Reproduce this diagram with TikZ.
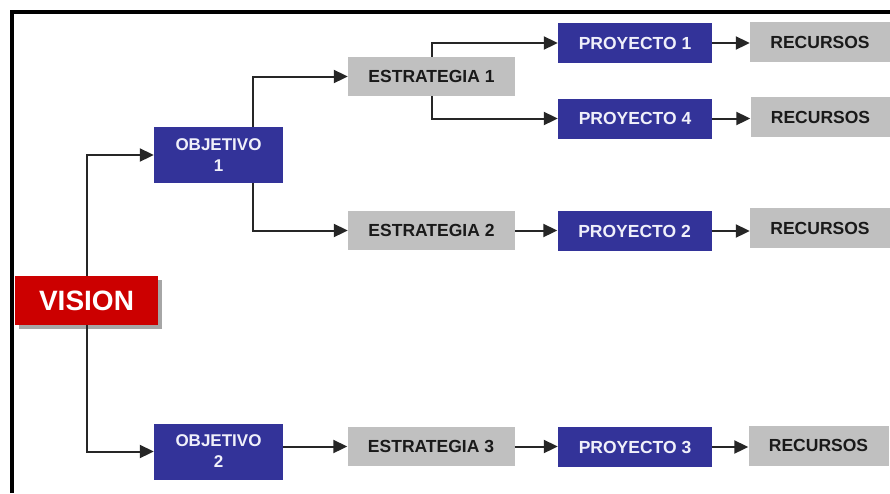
\documentclass[tikz,border=0pt]{standalone}
\usepackage{fontspec}
\setmainfont{Liberation Sans}
\usetikzlibrary{arrows.meta,shadows}
\definecolor{vred}{HTML}{CC0000}
\definecolor{pblue}{HTML}{333399}
\definecolor{bgray}{HTML}{C0C0C0}
\definecolor{dtext}{HTML}{1A1A1A}
\definecolor{ltext}{HTML}{F0F0FA}
\tikzset{
  box/.style={rectangle, inner sep=0pt, font=\bfseries\fontsize{17.5}{20}\selectfont},
  visbox/.style={box, fill=vred, text=white, minimum width=143pt, minimum height=49pt,
     font=\bfseries\fontsize{28}{32}\selectfont,
     drop shadow={shadow xshift=4pt, shadow yshift=-4pt, fill=black!35, opacity=1}},
  objbox/.style={box, fill=pblue, text=ltext, minimum width=129pt, minimum height=56pt,
     align=center, font=\bfseries\fontsize{17}{21}\selectfont},
  estbox/.style={box, fill=bgray, text=dtext, minimum width=167pt, minimum height=39pt},
  proybox/.style={box, fill=pblue, text=ltext, minimum width=154pt, minimum height=40pt},
  recbox/.style={box, fill=bgray, text=dtext, minimum width=140pt, minimum height=40pt},
  conn/.style={draw=black!85, line width=2pt, -{Triangle[length=14pt,width=13pt]}}
}
\begin{document}
\begin{tikzpicture}[x=1pt,y=-1pt]
\useasboundingbox (0,0) rectangle (890,493);
\fill[white] (0,0) rectangle (890,493);
\draw[line width=3.5pt] (12,493) -- (12,12) -- (890,12);

\node[visbox] (V) at (86.5,300.5) {VISION};
\node[objbox] (O1) at (218.5,155) {OBJETIVO\\1};
\node[objbox] (O2) at (218.5,451.5) {OBJETIVO\\2};

\node[estbox] (E1) at (431.5,76.5) {ESTRATEGIA 1};
\node[estbox] (E2) at (431.5,230.5) {ESTRATEGIA 2};
\node[estbox] (E3) at (431,446.5) {ESTRATEGIA 3};

\node[proybox] (P1) at (635,43) {PROYECTO 1};
\node[proybox] (P4) at (635,118.5) {PROYECTO 4};
\node[proybox] (P2) at (634.5,231) {PROYECTO 2};
\node[proybox] (P3) at (635,447) {PROYECTO 3};

\node[recbox] (R1) at (820,42) {RECURSOS};
\node[recbox] (R4) at (820.5,117) {RECURSOS};
\node[recbox] (R2) at (820,228) {RECURSOS};
\node[recbox] (R3) at (818.5,445.5) {RECURSOS};

\draw[conn] (V.north) |- (O1.west);
\draw[conn] (V.south) |- (O2.west);
\draw[conn] ([xshift=-30pt]O1.north east) |- (E1.west);
\draw[conn] ([xshift=-30pt]O1.south east) |- (E2.west);
\draw[conn] (O2.east |- E3.west) -- (E3.west);

\draw[conn] (E1.north) |- (P1.west);
\draw[conn] (E1.south) |- (P4.west);
\draw[conn] (E2.east) -- (P2.west |- E2.east);
\draw[conn] (E3.east) -- (P3.west |- E3.east);

\draw[conn] (P1.east) -- (R1.west |- P1.east);
\draw[conn] (P4.east) -- (R4.west |- P4.east);
\draw[conn] (P2.east) -- (R2.west |- P2.east);
\draw[conn] (P3.east) -- (R3.west |- P3.east);
\end{tikzpicture}
\end{document}
